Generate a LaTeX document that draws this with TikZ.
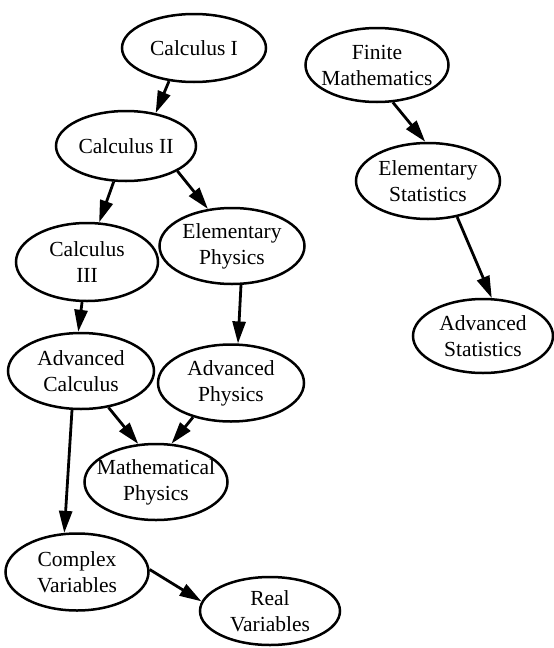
\documentclass[tikz,border=0pt]{standalone}
\usepackage{fontspec}
\setmainfont{Liberation Serif}
\usetikzlibrary{shapes.geometric,arrows.meta}
\begin{document}
\begin{tikzpicture}[x=1pt,y=-1pt,
  course/.style 2 args={ellipse,draw,line width=2.5pt,inner sep=0pt,
    minimum width=#1pt,minimum height=#2pt},
  txt/.style={align=center,inner sep=0pt,font=\fontsize{21.5}{26}\selectfont},
  link/.style={line width=2.8pt,-{Triangle[length=22pt,width=13pt]}}]
\useasboundingbox (0,0) rectangle (554,648);
\node[course={144}{68},label={[txt]center:Calculus I}] (c1) at (194,48) {};
\node[course={140}{70},label={[txt]center:Calculus II}] (c2) at (126,146) {};
\node[course={142}{78},label={[txt]center:Calculus\\III}] (c3) at (87,262) {};
\node[course={145}{76},label={[txt]center:Elementary\\Physics}] (ep) at (232,246) {};
\node[course={146}{76},label={[txt]center:Advanced\\Calculus}] (ac) at (81,371) {};
\node[course={146}{77},label={[txt]center:Advanced\\Physics}] (ap) at (231,383) {};
\node[course={143}{76},label={[txt]center:Mathematical\\Physics}] (mp) at (156,482) {};
\node[course={143}{77},label={[txt]center:Complex\\Variables}] (cv) at (77,572) {};
\node[course={140}{68},label={[txt]center:Real\\Variables}] (rv) at (270,611) {};
\node[course={143}{74},label={[txt]center:Finite\\Mathematics}] (fm) at (377,65) {};
\node[course={144}{76},label={[txt]center:Elementary\\Statistics}] (es) at (428,181) {};
\node[course={140}{74},label={[txt]center:Advanced\\Statistics}] (as) at (483,336) {};

\draw[link] (c1.233) -- (c2.48);
\draw[link] (c2.251) -- (c3.73);
\draw[link] (c2.334) -- (ep.123);
\draw[link] (ep.283) -- (ap.80);
\draw[link] (c3.263) -- (ac.94);
\draw[link] (ac.307) -- (mp.115);
\draw[link] (ap.222) -- (mp.68);
\draw[link] (ac.257) -- (cv.108);
\draw[link] (cv.2) -- (rv.172);
\draw[link] (fm.293) -- (es.94);
\draw[link] (es.309) -- (as.77);
\end{tikzpicture}
\end{document}
